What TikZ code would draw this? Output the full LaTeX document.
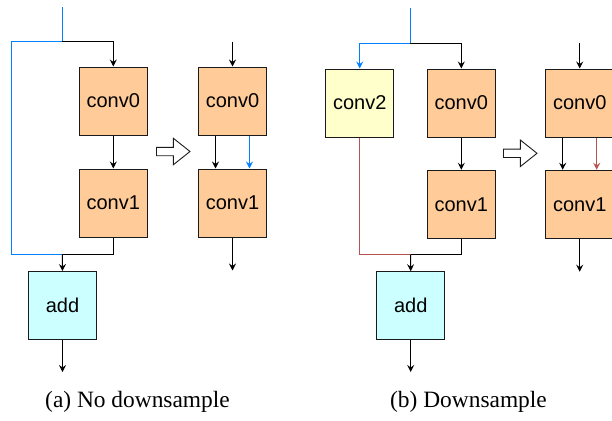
\documentclass[tikz,border=0pt]{standalone}
\usepackage{fontspec}
\setmainfont{Liberation Serif}
\newfontfamily\boxfont{Liberation Sans}
\usetikzlibrary{arrows.meta}
\definecolor{convfill}{HTML}{FFCC99}
\definecolor{addfill}{HTML}{CCFFFF}
\definecolor{dsfill}{HTML}{FFFFCC}
\definecolor{skipblue}{HTML}{007FFF}
\definecolor{skipred}{HTML}{B85450}
\definecolor{boxline}{HTML}{1A1A1A}
\begin{document}
\begin{tikzpicture}[x=1pt,y=-1pt,
  blk/.style={draw=boxline, line width=1pt, minimum width=68pt, minimum height=68pt, inner sep=0pt, font=\boxfont\fontsize{20}{24}\selectfont},
  conv/.style={blk, fill=convfill},
  addbox/.style={blk, fill=addfill},
  dsbox/.style={blk, fill=dsfill},
  ln/.style={line width=1pt, draw=black},
  arr/.style={ln, -{Stealth[length=7pt,width=7pt,inset=2.5pt]}},
  bl/.style={line width=1pt, draw=skipblue},
  rd/.style={line width=1pt, draw=skipred},
  hollow/.style={line width=0.9pt, draw=boxline, fill=white},
  captext/.style={anchor=base, inner sep=0pt, font=\fontsize{23.4}{28}\selectfont}
]
\useasboundingbox (0,0) rectangle (612,420);

% ---------- (a) No downsample ----------
\node[conv] (c0a) at (113.3,101) {conv0};
\node[conv] (c1a) at (113.3,203) {conv1};
\node[addbox] (adda) at (62.5,305.5) {add};
\coordinate (inA) at (62.3,7);
\coordinate (jA) at (62.3,42);
\coordinate (lA) at (11,42);
\coordinate (lbA) at (11,254.5);
\coordinate (mA) at (62.3,254.5);
\coordinate (outA) at (62.5,372);

\draw[bl] (inA) -- (jA) -- (lA) -- (lbA) -- (mA);
\draw[arr] (jA) -| (c0a.north);
\draw[arr] (c0a.south) -- (c1a.north);
\draw[ln] (c1a.south) |- (mA);
\draw[arr] (mA) -- (adda.north);
\draw[arr] (adda.south) -- (outA);

\coordinate (hA) at (156.5,151.5);
\draw[hollow] (hA) ++(0,-4.2) -- ++(16.8,0) -- ++(0,-9.1) -- ++(16.7,13.3) -- ++(-16.7,13.3) -- ++(0,-9.1) -- ++(-16.8,0) -- cycle;

\node[conv] (c0a2) at (232.5,101) {conv0};
\node[conv] (c1a2) at (232.5,203) {conv1};
\coordinate (inA2) at (232.5,42);
\coordinate (outA2) at (232.5,270.5);
\draw[arr] (inA2) -- (c0a2.north);
\draw[arr] ([xshift=-17pt]c0a2.south) -- ([xshift=-17pt]c1a2.north);
\draw[arr, draw=skipblue] ([xshift=17pt]c0a2.south) -- ([xshift=17pt]c1a2.north);
\draw[arr] (c1a2.south) -- (outA2);

\node[captext] (capa) at (137.5,407) {(a) No downsample};

% ---------- (b) Downsample ----------
\node[dsbox] (c2b) at (359.7,103) {conv2};
\node[conv] (c0b) at (461.3,103) {conv0};
\node[conv] (c1b) at (461.3,204.3) {conv1};
\node[addbox] (addb) at (410.7,305.7) {add};
\coordinate (inB) at (410.3,8);
\coordinate (jB) at (410.3,43.3);
\coordinate (mB) at (410.5,254.5);
\coordinate (outB) at (410.7,372);

\draw[bl] (inB) -- (jB);
\draw[arr, draw=skipblue] (jB) -| (c2b.north);
\draw[arr] (jB) -| (c0b.north);
\draw[arr] (c0b.south) -- (c1b.north);
\draw[rd] (c2b.south) |- (mB);
\draw[ln] (c1b.south) |- (mB);
\draw[arr] (mB) -- (addb.north);
\draw[arr] (addb.south) -- (outB);

\coordinate (hB) at (503.5,153.3);
\draw[hollow] (hB) ++(0,-4.2) -- ++(16.8,0) -- ++(0,-9.1) -- ++(16.7,13.3) -- ++(-16.7,13.3) -- ++(0,-9.1) -- ++(-16.8,0) -- cycle;

\node[conv] (c0b2) at (579.7,103) {conv0};
\node[conv] (c1b2) at (579.7,204.3) {conv1};
\coordinate (inB2) at (579.7,43.3);
\coordinate (outB2) at (579.7,271.7);
\draw[arr] (inB2) -- (c0b2.north);
\draw[arr] ([xshift=-17pt]c0b2.south) -- ([xshift=-17pt]c1b2.north);
\draw[arr, draw=skipred] ([xshift=17pt]c0b2.south) -- ([xshift=17pt]c1b2.north);
\draw[arr] (c1b2.south) -- (outB2);

\node[captext] (capb) at (468.5,407) {(b) Downsample};
\end{tikzpicture}
\end{document}
